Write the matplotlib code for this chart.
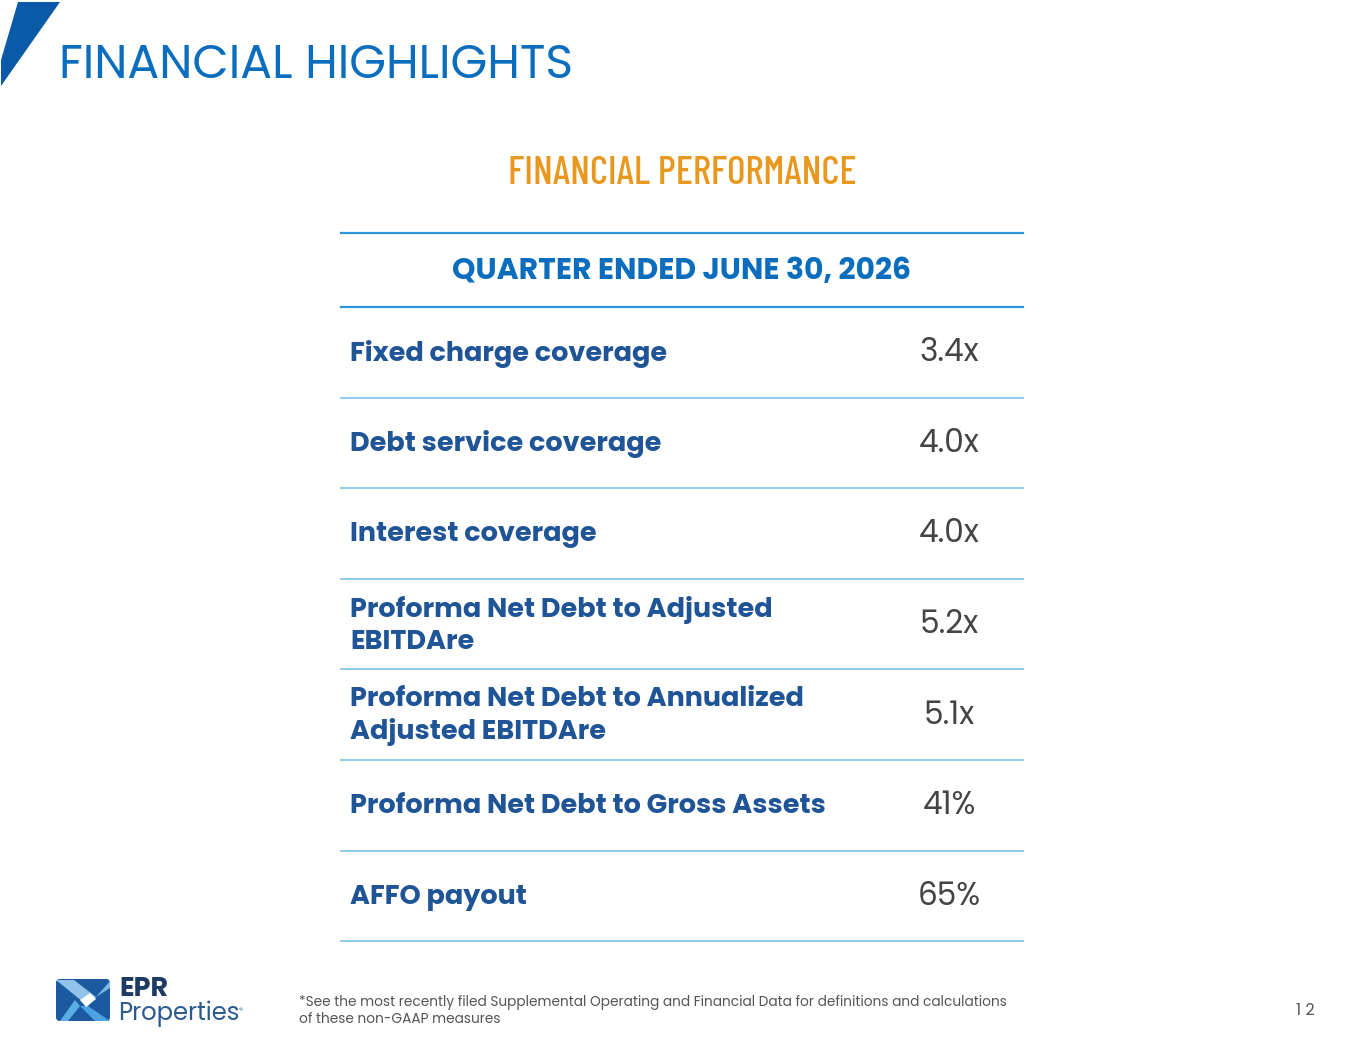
import matplotlib
matplotlib.use("Agg")
import matplotlib.pyplot as plt
from matplotlib.patches import Polygon, FancyBboxPatch

# Données du tableau
titre = "FINANCIAL HIGHLIGHTS"
sous_titre = "FINANCIAL PERFORMANCE"
entete = "QUARTER ENDED JUNE 30, 2026"
libelles = [
    "Fixed charge coverage",
    "Debt service coverage",
    "Interest coverage",
    "Proforma Net Debt to Adjusted\nEBITDAre",
    "Proforma Net Debt to Annualized\nAdjusted EBITDAre",
    "Proforma Net Debt to Gross Assets",
    "AFFO payout",
]
valeurs = ["3.4x", "4.0x", "4.0x", "5.2x", "5.1x", "41%", "65%"]
note = ("*See the most recently filed Supplemental Operating and Financial Data for definitions and calculations\n"
        "of these non-GAAP measures")
num_page = "1 2"

W, H = 1365, 1055
fig = plt.figure(figsize=(W / 100, H / 100), dpi=100)
ax = fig.add_axes([0, 0, 1, 1])
ax.set_xlim(0, W)
ax.set_ylim(H, 0)
ax.axis("off")

bleu_titre = "#0b6dbd"
bleu_lib = "#1f5496"
orange = "#e8981e"
ligne_fonce = "#2a95d8"
ligne_clair = "#8ccaee"
police = ["Poppins", "DejaVu Sans"]
police_cond = ["Barlow Condensed", "DejaVu Sans"]

# Bandeau en haut à gauche
ax.add_patch(Polygon([(18, 2), (60, 2), (1, 86), (1, 60)], closed=True,
                     facecolor="#0a5aa8", edgecolor="none"))

ax.text(59, 66, titre, fontsize=34, color=bleu_titre, family=police,
        va="center", ha="left")

ax.text(682, 174, sous_titre, fontsize=28.5, color=orange,
        family=police_cond, fontweight="medium", va="center", ha="center")

# Tableau
x0, x1 = 341, 1023
y_haut = 233
y_entete = 307
h_ligne = 90.6
ax.plot([x0, x1], [y_haut, y_haut], color=ligne_fonce, lw=1.6)
ax.plot([x0, x1], [y_entete, y_entete], color=ligne_fonce, lw=1.6)
ax.text(682, 272, entete, fontsize=21.5, color=bleu_titre, family=police,
        fontweight="bold", va="center", ha="center")

for i, (lib, val) in enumerate(zip(libelles, valeurs)):
    yc = y_entete + h_ligne * (i + 0.5)
    yb = y_entete + h_ligne * (i + 1)
    ax.text(350, yc + 1.5, lib, fontsize=19.5, color=bleu_lib, family=police,
            fontweight="bold", va="center", ha="left", linespacing=1.25)
    ax.text(949, yc + 1, val, fontsize=22.5, color="#444444", family=police,
            va="center", ha="center")
    ax.plot([x0, x1], [yb, yb], color=ligne_clair, lw=1.4)

# Logo EPR
ax.add_patch(FancyBboxPatch((56, 979), 54, 42, boxstyle="round,pad=0,rounding_size=4",
                            facecolor="#1b5aa0", edgecolor="none"))
ax.add_patch(Polygon([(56, 980), (74, 980), (96, 997), (88, 1006)], closed=True,
                     facecolor="#8fc3ea", edgecolor="none"))
ax.add_patch(Polygon([(88, 1006), (110, 1021), (95, 1021), (80, 1006)], closed=True,
                     facecolor="#4aa3e0", edgecolor="none"))
ax.add_patch(Polygon([(80, 1006), (68, 1021), (60, 1021), (75, 1000)], closed=True,
                     facecolor="#5aaee6", edgecolor="none"))
ax.add_patch(Polygon([(96, 997), (110, 981), (110, 988)], closed=True,
                     facecolor="#7cb8e6", edgecolor="none"))
ax.add_patch(Polygon([(80, 1000), (90, 993), (96, 999), (86, 1007)], closed=True,
                     facecolor="white", edgecolor="none"))

ax.text(119, 989, "EPR", fontsize=19.5, color="#1d3a63", family=police,
        fontweight="bold", va="center", ha="left")
ax.text(118, 1014, "Properties", fontsize=17.5, color="#2a5a90", family=police,
        va="center", ha="left")
ax.text(239, 1012, "®", fontsize=5.5, color="#2a5a90", family=police,
        va="center", ha="left")

ax.text(299, 1011, note, fontsize=9.85, color="#555555", family=police,
        va="center", ha="left", linespacing=1.2)
ax.text(1315, 1011, num_page, fontsize=11.5, color="#555555", family=police,
        va="center", ha="right")

fig.savefig("out.png", dpi=100)
